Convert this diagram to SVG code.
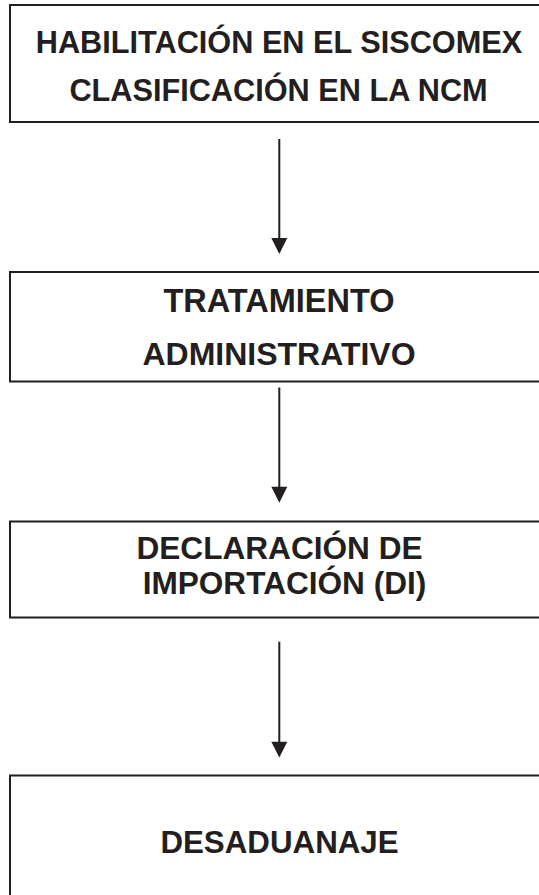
<svg xmlns="http://www.w3.org/2000/svg" width="539" height="895" viewBox="0 0 539 895">
<style>
.box{fill:#fff;stroke:#231f20;stroke-width:2}
.t{font-family:"Liberation Sans",Arial,sans-serif;font-weight:bold;fill:#231f20;text-anchor:middle}
.c{stroke:#231f20;stroke-width:2;fill:none}
.h{fill:#231f20}
</style>
<rect width="539" height="895" fill="#fff"/>
<g id="n1">
<rect class="box" x="10" y="5" width="540" height="117"/>
<text class="t" x="279" y="52.5" font-size="30.7">HABILITACIÓN EN EL SISCOMEX</text>
<text class="t" x="278.5" y="101" font-size="30.7">CLASIFICACIÓN EN LA NCM</text>
</g>
<g id="n2">
<rect class="box" x="10" y="272" width="540" height="109.5"/>
<text class="t" x="279" y="311.5" font-size="32.5">TRATAMIENTO</text>
<text class="t" x="279" y="365" font-size="32">ADMINISTRATIVO</text>
</g>
<g id="n3">
<rect class="box" x="10" y="521.5" width="540" height="96"/>
<text class="t" x="279.5" y="558.5" font-size="31.6">DECLARACIÓN DE</text>
<text class="t" x="284.5" y="593.5" font-size="31.6">IMPORTACIÓN (DI)</text>
</g>
<g id="n4">
<rect class="box" x="10" y="775.5" width="540" height="130"/>
<text class="t" x="279.5" y="852.5" font-size="31.3">DESADUANAJE</text>
</g>
<g id="connectors">
<line class="c" x1="279.3" y1="139" x2="279.3" y2="240"/>
<polygon class="h" points="271.3,238 287.3,238 279.3,254"/>
<line class="c" x1="279.3" y1="387.5" x2="279.3" y2="488"/>
<polygon class="h" points="271.3,486.7 287.3,486.7 279.3,502.7"/>
<line class="c" x1="279.3" y1="641.7" x2="279.3" y2="743"/>
<polygon class="h" points="271.3,741.7 287.3,741.7 279.3,757.5"/>
</g>
</svg>
